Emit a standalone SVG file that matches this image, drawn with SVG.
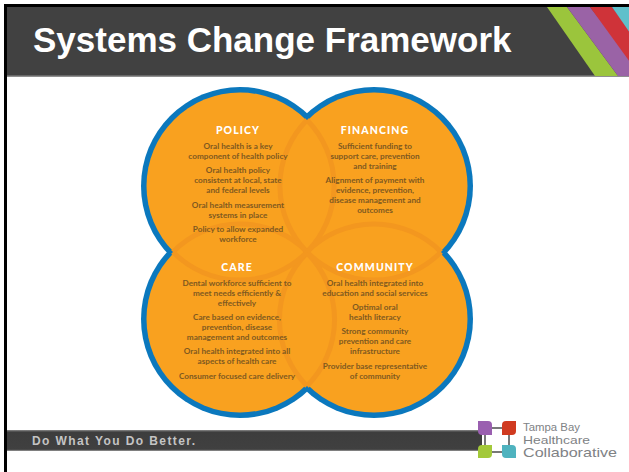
<svg xmlns="http://www.w3.org/2000/svg" width="629" height="472" viewBox="0 0 629 472">
<style>
.b{font-family:"Lato","Liberation Sans",sans-serif;font-weight:700;font-size:8.2px;fill:#80591f;text-anchor:middle}
.h{font-family:"Lato","Liberation Sans",sans-serif;font-weight:900;font-size:10.5px;fill:#fff;text-anchor:middle;letter-spacing:1.1px}
.l{font-family:"Liberation Sans",sans-serif;fill:#808285}
.ov{fill:none;stroke:#f3971f;stroke-width:5}
</style>
<defs>
<linearGradient id="foot" x1="0" y1="0" x2="0" y2="1"><stop offset="0" stop-color="#8a8a8a"/><stop offset=".1" stop-color="#3d3d3d"/><stop offset=".92" stop-color="#404040"/><stop offset="1" stop-color="#9a9a9a"/></linearGradient>
<clipPath id="band"><rect x="7" y="7" width="622" height="69"/></clipPath>
</defs>
<rect width="629" height="472" fill="#fff"/>
<rect x="4" y="4" width="625" height="3" fill="#000"/>
<rect x="4" y="4" width="3" height="468" fill="#000"/>
<g id="header">
<rect x="7" y="7" width="622" height="69" fill="#414141"/>
<rect x="7" y="75.500" width="622" height="1.500" fill="#8f8f8f"/>
<g clip-path="url(#band)">
<polygon points="547,7 567,7 618,76 595,76" fill="#9bc53c"/>
<polygon points="567,7 590,7 645,76 618,76" fill="#9a63a6"/>
<polygon points="590,7 612,7 665,76 640,76" fill="#cf3339"/>
<polygon points="612,7 640,7 690,76 660,76" fill="#5fc0cb"/>
</g>
<text x="33" y="51.500" font-family="Liberation Sans,sans-serif" font-weight="700" font-size="35" fill="#fff">Systems Change Framework</text>
</g>
<g id="venn-base">
<circle cx="240" cy="186" r="99" fill="#0b78bd"/>
<circle cx="374" cy="186" r="99" fill="#0b78bd"/>
<circle cx="240" cy="319" r="99" fill="#0b78bd"/>
<circle cx="374" cy="319" r="99" fill="#0b78bd"/>
<circle cx="240" cy="186" r="93.500" fill="#f9a11f"/>
<circle cx="374" cy="186" r="93.500" fill="#f9a11f"/>
<circle cx="240" cy="319" r="93.500" fill="#f9a11f"/>
<circle cx="374" cy="319" r="93.500" fill="#f9a11f"/>
<path class="ov" d="M307 120A94 94 0 0 1 307 252"/>
<path class="ov" d="M307 120A94 94 0 0 0 307 252"/>
<path class="ov" d="M307 253A94 94 0 0 1 307 386"/>
<path class="ov" d="M307 253A94 94 0 0 0 307 386"/>
<path class="ov" d="M173 252A94 94 0 0 0 307 252"/>
<path class="ov" d="M307 252A94 94 0 0 0 441 252"/>
<path class="ov" d="M173 252A94 94 0 0 1 307 252"/>
<path class="ov" d="M307 252A94 94 0 0 1 441 252"/>
</g>
<g id="policy">
<text class="h" x="238" y="134">POLICY</text>
<text class="b" x="238" y="148.500">Oral health is a key</text>
<text class="b" x="238" y="158.500">component of health policy</text>
<text class="b" x="238" y="173">Oral health policy</text>
<text class="b" x="238" y="183">consistent at local, state</text>
<text class="b" x="238" y="193">and federal levels</text>
<text class="b" x="238" y="207.500">Oral health measurement</text>
<text class="b" x="238" y="217.500">systems in place</text>
<text class="b" x="238" y="232">Policy to allow expanded</text>
<text class="b" x="238" y="242">workforce</text>
</g>
<g id="financing">
<text class="h" x="375" y="134">FINANCING</text>
<text class="b" x="375" y="148.500">Sufficient funding to</text>
<text class="b" x="375" y="158.500">support care, prevention</text>
<text class="b" x="375" y="168.500">and training</text>
<text class="b" x="375" y="183">Alignment of payment with</text>
<text class="b" x="375" y="193">evidence, prevention,</text>
<text class="b" x="375" y="203">disease management and</text>
<text class="b" x="375" y="213">outcomes</text>
</g>
<g id="care">
<text class="h" x="237" y="271">CARE</text>
<text class="b" x="237" y="286">Dental workforce sufficient to</text>
<text class="b" x="237" y="296">meet needs efficiently &amp;</text>
<text class="b" x="237" y="306">effectively</text>
<text class="b" x="237" y="320">Care based on evidence,</text>
<text class="b" x="237" y="330">prevention, disease</text>
<text class="b" x="237" y="340">management and outcomes</text>
<text class="b" x="237" y="354">Oral health integrated into all</text>
<text class="b" x="237" y="364">aspects of health care</text>
<text class="b" x="237" y="378.500">Consumer focused care delivery</text>
</g>
<g id="community">
<text class="h" x="375" y="271">COMMUNITY</text>
<text class="b" x="375" y="286">Oral health integrated into</text>
<text class="b" x="375" y="296">education and social services</text>
<text class="b" x="375" y="310">Optimal oral</text>
<text class="b" x="375" y="320">health literacy</text>
<text class="b" x="375" y="334">Strong community</text>
<text class="b" x="375" y="344">prevention and care</text>
<text class="b" x="375" y="354">infrastructure</text>
<text class="b" x="375" y="369">Provider base representative</text>
<text class="b" x="375" y="379">of community</text>
</g>
<g id="footer">
<rect x="7" y="430" width="475" height="21" fill="url(#foot)"/>
<text x="32" y="445" font-family="Liberation Sans,sans-serif" font-weight="700" font-size="12px" textLength="163" fill="#c4c4c4">Do What You Do Better.</text>
</g>
<g id="logo">
<rect x="485" y="428" width="24" height="24" fill="#fff" stroke="#6a6a6a" stroke-width="1.800"/>
<path d="M478 421H488Q492 421 492 425V435H482Q478 435 478 431Z" fill="#9a5fb0"/>
<path d="M516 421H506Q502 421 502 425V435H512Q516 435 516 431Z" fill="#d03a20"/>
<path d="M478 458H488Q492 458 492 454V445H482Q478 445 478 449Z" fill="#a3c93a"/>
<path d="M502 445H512Q516 445 516 449V458H506Q502 458 502 454Z" fill="#4fb3bf"/>
<text class="l" x="523" y="431" font-size="10" textLength="57" lengthAdjust="spacingAndGlyphs">Tampa Bay</text>
<text class="l" x="523" y="443.500" font-size="11.500" textLength="67" lengthAdjust="spacingAndGlyphs">Healthcare</text>
<text class="l" x="523" y="457" font-size="13.500" textLength="94" lengthAdjust="spacingAndGlyphs">Collaborative</text>
</g>
</svg>
